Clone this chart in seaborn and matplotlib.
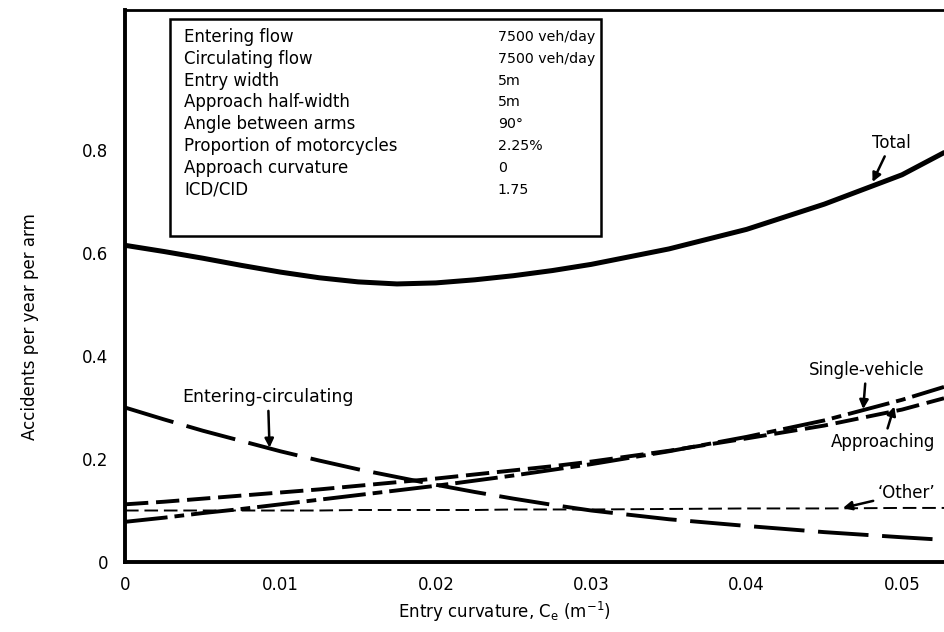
import matplotlib
matplotlib.use("Agg")
import matplotlib.pyplot as plt
import pandas as pd
import seaborn as sns

# curve values
curvature = [0.0, 0.0025, 0.005, 0.0075, 0.01, 0.0125, 0.015, 0.0175, 0.02, 0.0225, 0.025,
             0.0275, 0.03, 0.035, 0.04, 0.045, 0.05, 0.0527]
total = [0.615, 0.603, 0.59, 0.576, 0.563, 0.552, 0.544, 0.54, 0.542, 0.548, 0.556,
         0.566, 0.578, 0.608, 0.646, 0.695, 0.752, 0.795]
entering_circ = [0.30, 0.277, 0.255, 0.235, 0.215, 0.197, 0.18, 0.165, 0.15, 0.136, 0.123,
                 0.111, 0.10, 0.083, 0.07, 0.058, 0.048, 0.043]
single_vehicle = [0.078, 0.086, 0.095, 0.103, 0.112, 0.121, 0.13, 0.139, 0.148, 0.158, 0.168,
                  0.179, 0.19, 0.215, 0.243, 0.275, 0.315, 0.34]
approaching = [0.112, 0.117, 0.123, 0.129, 0.135, 0.141, 0.148, 0.155, 0.162, 0.17, 0.178,
               0.186, 0.195, 0.216, 0.24, 0.265, 0.296, 0.318]
other = [0.10, 0.10, 0.10, 0.10, 0.10, 0.10, 0.101, 0.101, 0.101, 0.101, 0.102,
         0.102, 0.102, 0.103, 0.104, 0.104, 0.105, 0.105]

table_names = ["Entering flow", "Circulating flow", "Entry width", "Approach half-width",
               "Angle between arms", "Proportion of motorcycles", "Approach curvature", "ICD/CID"]
table_values = ["7500 veh/day", "7500 veh/day", "5m", "5m", "90°", "2.25%", "0", "1.75"]

x_ticks = [0, 0.01, 0.02, 0.03, 0.04, 0.05]
x_labels = ["0", "0.01", "0.02", "0.03", "0.04", "0.05"]
y_ticks = [0, 0.2, 0.4, 0.6, 0.8]
y_labels = ["0", "0.2", "0.4", "0.6", "0.8"]

df = pd.DataFrame({"x": curvature, "total": total, "ec": entering_circ,
                   "sv": single_vehicle, "app": approaching, "other": other})

sns.set_style("white")
plt.rcParams["font.family"] = ["DejaVu Sans"]
plt.rcParams["text.color"] = "black"
plt.rcParams["axes.labelcolor"] = "black"

fig = plt.figure(figsize=(9.44, 6.32), dpi=100)
ax = fig.add_axes([125 / 944, 70 / 632, 819 / 944, 552 / 632])

sns.lineplot(data=df, x="x", y="total", color="black", linewidth=3.6, ax=ax)
sns.lineplot(data=df, x="x", y="ec", color="black", linewidth=2.8,
             linestyle=(0, (13, 3.5)), ax=ax)
sns.lineplot(data=df, x="x", y="sv", color="black", linewidth=2.8,
             linestyle=(0, (11, 1.8, 2.5, 1.8)), ax=ax)
sns.lineplot(data=df, x="x", y="app", color="black", linewidth=2.8,
             linestyle=(0, (6, 2)), ax=ax)
sns.lineplot(data=df, x="x", y="other", color="black", linewidth=1.4,
             linestyle=(0, (7, 3)), ax=ax)

ax.set_xlim(0, 0.0527)
ax.set_ylim(0, 1.072)
ax.set_xticks(x_ticks)
ax.set_xticklabels(x_labels)
ax.set_yticks(y_ticks)
ax.set_yticklabels(y_labels)
ax.tick_params(axis="x", direction="in", length=15, width=2.2, pad=10, labelsize=12, colors="black")
ax.tick_params(axis="y", direction="in", length=15, width=2.2, pad=12, labelsize=12, colors="black")
for s in ["left", "bottom"]:
    ax.spines[s].set_linewidth(2.8)
    ax.spines[s].set_color("black")
ax.spines["top"].set_linewidth(2.0)
ax.spines["top"].set_color("black")
ax.spines["right"].set_visible(False)

ax.set_xlabel("Entry curvature, C$_\\mathregular{e}$ (m$^{\\mathregular{-1}}$)", fontsize=12)
ax.xaxis.set_label_coords(0.464, -0.068)
ax.set_ylabel("Accidents per year per arm", fontsize=12)
ax.yaxis.set_label_coords(-0.105, 0.427)

# parameter table
ax.add_patch(plt.Rectangle((0.055, 0.59), 0.526, 0.393, transform=ax.transAxes,
                           fill=False, edgecolor="black", linewidth=1.8))
for i, (name, val) in enumerate(zip(table_names, table_values)):
    yy = 0.951 - i * 0.0395
    ax.text(0.072, yy, name, transform=ax.transAxes, fontsize=12, va="center")
    ax.text(0.455, yy, val, transform=ax.transAxes, fontsize=10.2, va="center")

arrow = dict(arrowstyle="-|>", color="black", lw=1.8, mutation_scale=13, shrinkA=1, shrinkB=0)
ax.annotate("Total", xy=(0.0481, 0.738), xytext=(0.0493, 0.814), fontsize=12,
            ha="center", va="center", arrowprops=arrow)
ax.annotate("Single-vehicle", xy=(0.0475, 0.297), xytext=(0.0477, 0.373), fontsize=12,
            ha="center", va="center", arrowprops=arrow)
ax.annotate("Approaching", xy=(0.0495, 0.302), xytext=(0.0488, 0.233), fontsize=12,
            ha="center", va="center", arrowprops=arrow)
ax.annotate("\u2018Other\u2019", xy=(0.0462, 0.105), xytext=(0.0503, 0.134), fontsize=12,
            ha="center", va="center", arrowprops=arrow)
ax.annotate("Entering-circulating", xy=(0.0093, 0.222), xytext=(0.0092, 0.32), fontsize=12.5,
            ha="center", va="center", arrowprops=arrow)

fig.savefig("out.png", dpi=100)
